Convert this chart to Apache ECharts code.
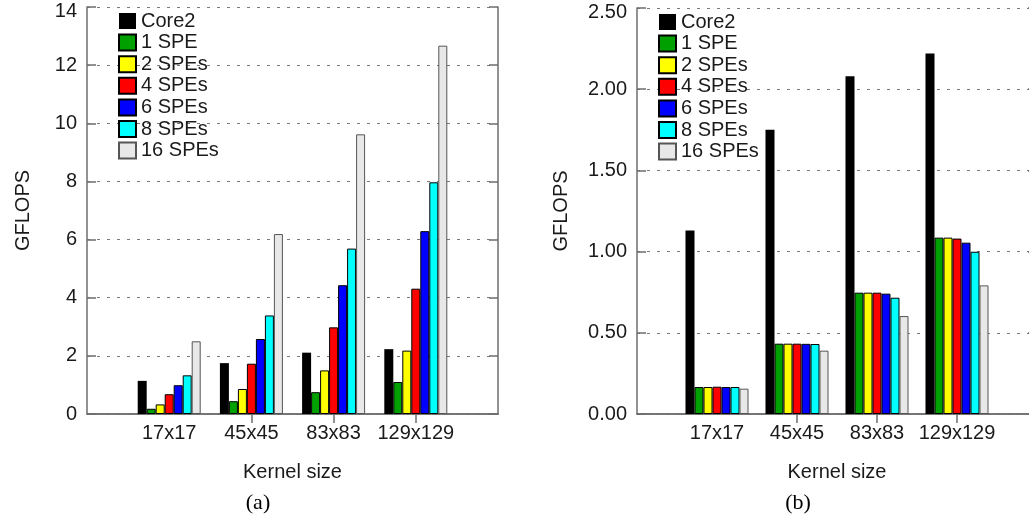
<!DOCTYPE html>
<html>
<head>
<meta charset="utf-8">
<title>GFLOPS by kernel size</title>
<script src="https://cdn.jsdelivr.net/npm/echarts@6/dist/echarts.min.js"></script>
<style>
  html, body { margin: 0; padding: 0; background: #fff; }
  #chart { width: 1029px; height: 522px; }
</style>
</head>
<body>
<div id="chart"></div>
<script>
// Kernel sizes along the x axis
const kernels = ['17x17', '45x45', '83x83', '129x129'];
const seriesNames = ['Core2', '1 SPE', '2 SPEs', '4 SPEs', '6 SPEs', '8 SPEs', '16 SPEs'];
const seriesColors = ['#000000', '#00a000', '#ffff00', '#ff0000', '#0000ff', '#00ffff', '#e8e8e8'];

// (a) GFLOPS per kernel size
const aCore2 = [1.14, 1.75, 2.11, 2.23];
const a1SPE  = [0.18, 0.44, 0.75, 1.10];
const a2SPE  = [0.33, 0.86, 1.50, 2.18];
const a4SPE  = [0.68, 1.73, 2.98, 4.31];
const a6SPE  = [0.99, 2.58, 4.43, 6.29];
const a8SPE  = [1.33, 3.39, 5.69, 7.97];
const a16SPE = [2.50, 6.19, 9.62, 12.67];

// (b) GFLOPS per kernel size
const bCore2 = [1.13, 1.75, 2.08, 2.22];
const b1SPE  = [0.166, 0.433, 0.747, 1.086];
const b2SPE  = [0.166, 0.433, 0.747, 1.086];
const b4SPE  = [0.168, 0.433, 0.747, 1.080];
const b6SPE  = [0.166, 0.432, 0.741, 1.055];
const b8SPE  = [0.166, 0.431, 0.716, 0.999];
const b16SPE = [0.156, 0.390, 0.603, 0.792];

// y-axis ranges
const aTicks = { max: 14, interval: 2 };
const bTicks = { max: 2.5, interval: 0.5 };

const aData = [aCore2, a1SPE, a2SPE, a4SPE, a6SPE, a8SPE, a16SPE];
const bData = [bCore2, b1SPE, b2SPE, b4SPE, b6SPE, b8SPE, b16SPE];

// The x range runs one slot past each end, so pad the categories
const slots = [''].concat(kernels, ['']);
const pad = arr => [null].concat(arr, [null]);

const FONT = "'Liberation Sans', Arial, sans-serif";
const TEXT = '#1a1a1a';
const FRAME = '#6e6e6e';
const GRID_DOT = '#7a7a7a';

function bottomAxis(gridIndex) {
  return {
    type: 'category', gridIndex, data: slots, boundaryGap: false,
    axisLine: { show: true, lineStyle: { color: FRAME, width: 1.5 } },
    axisTick: { show: false },
    axisLabel: { fontFamily: FONT, fontSize: 20, color: TEXT, margin: 9, interval: 0 },
    splitLine: { show: false },
    name: 'Kernel size', nameLocation: 'middle', nameGap: 48,
    nameTextStyle: { fontFamily: FONT, fontSize: 20, color: TEXT }
  };
}
function topAxis(gridIndex) {
  return {
    type: 'category', gridIndex, data: slots, boundaryGap: false, position: 'top',
    axisLine: { show: true, lineStyle: { color: FRAME, width: 1.5 } },
    axisTick: { show: true, inside: true, length: 9, interval: (i) => i >= 2 && i <= 4,
                lineStyle: { color: FRAME, width: 1.5 } },
    axisLabel: { show: false },
    splitLine: { show: false }
  };
}
function leftAxis(gridIndex, ticks, digits) {
  return {
    type: 'value', gridIndex, min: 0, max: ticks.max, interval: ticks.interval,
    axisLine: { show: true, lineStyle: { color: FRAME, width: 1.5 } },
    axisTick: { show: true, inside: true, length: 9, lineStyle: { color: FRAME, width: 1.5 } },
    axisLabel: {
      fontFamily: FONT, fontSize: 20, color: TEXT, margin: 10,
      // the topmost label sits a little below the frame
      formatter: v => v === ticks.max ? '{top|' + v.toFixed(digits) + '}' : v.toFixed(digits),
      rich: { top: { fontFamily: FONT, fontSize: 20, color: TEXT, padding: [9, 0, 0, 0] } }
    },
    splitLine: { show: true, lineStyle: { color: GRID_DOT, width: 1.2, type: [3, 7] } },
    name: 'GFLOPS', nameLocation: 'middle', nameRotate: 90, nameGap: digits ? 66 : 54,
    nameTextStyle: { fontFamily: FONT, fontSize: 20, color: TEXT }
  };
}
function rightAxis(gridIndex, ticks) {
  return {
    type: 'value', gridIndex, min: 0, max: ticks.max, interval: ticks.interval, position: 'right',
    axisLine: { show: true, lineStyle: { color: FRAME, width: 1.5 } },
    axisTick: { show: true, inside: true, length: 9, lineStyle: { color: FRAME, width: 1.5 } },
    axisLabel: { show: false },
    splitLine: { show: false }
  };
}

function barSeries(data, axisIndex) {
  return data.map((vals, k) => ({
    type: 'bar',
    name: seriesNames[k],
    xAxisIndex: axisIndex, yAxisIndex: axisIndex,
    data: pad(vals),
    barWidth: 9,
    barGap: '0%',
    itemStyle: {
      color: seriesColors[k],
      borderColor: k === 6 ? '#555' : '#000',
      borderWidth: k === 0 ? 0 : 1
    },
    emphasis: { disabled: true },
    animation: false
  }));
}

function legendAt(left, top) {
  return {
    orient: 'vertical', left, top,
    icon: 'rect', itemWidth: 17, itemHeight: 16, itemGap: 1.6, itemTextGap: 15,
    textStyle: { fontFamily: FONT, fontSize: 20, color: TEXT, lineHeight: 20 },
    data: seriesNames,
    selectedMode: false
  };
}

const chart = echarts.init(document.getElementById('chart'), null, { renderer: 'canvas' });
chart.setOption({
  backgroundColor: '#fff',
  animation: false,
  title: [
    { text: '(a)', left: 253, top: 487, textAlign: 'center',
      textStyle: { fontFamily: "'Liberation Serif', 'Times New Roman', serif", fontSize: 22, fontWeight: 'normal', color: '#000' } },
    { text: '(b)', left: 793, top: 487, textAlign: 'center',
      textStyle: { fontFamily: "'Liberation Serif', 'Times New Roman', serif", fontSize: 22, fontWeight: 'normal', color: '#000' } }
  ],
  legend: [legendAt(113, 6), legendAt(653, 7)],
  grid: [
    { left: 87, top: 7, width: 411, height: 407, outerBoundsMode: 'none' },
    { left: 637, top: 8, width: 400, height: 406, outerBoundsMode: 'none' }
  ],
  xAxis: [bottomAxis(0), topAxis(0), bottomAxis(1), topAxis(1)],
  yAxis: [leftAxis(0, aTicks, 0), rightAxis(0, aTicks), leftAxis(1, bTicks, 2), rightAxis(1, bTicks)],
  series: barSeries(aData, 0).concat(barSeries(bData, 2))
});
</script>
</body>
</html>
